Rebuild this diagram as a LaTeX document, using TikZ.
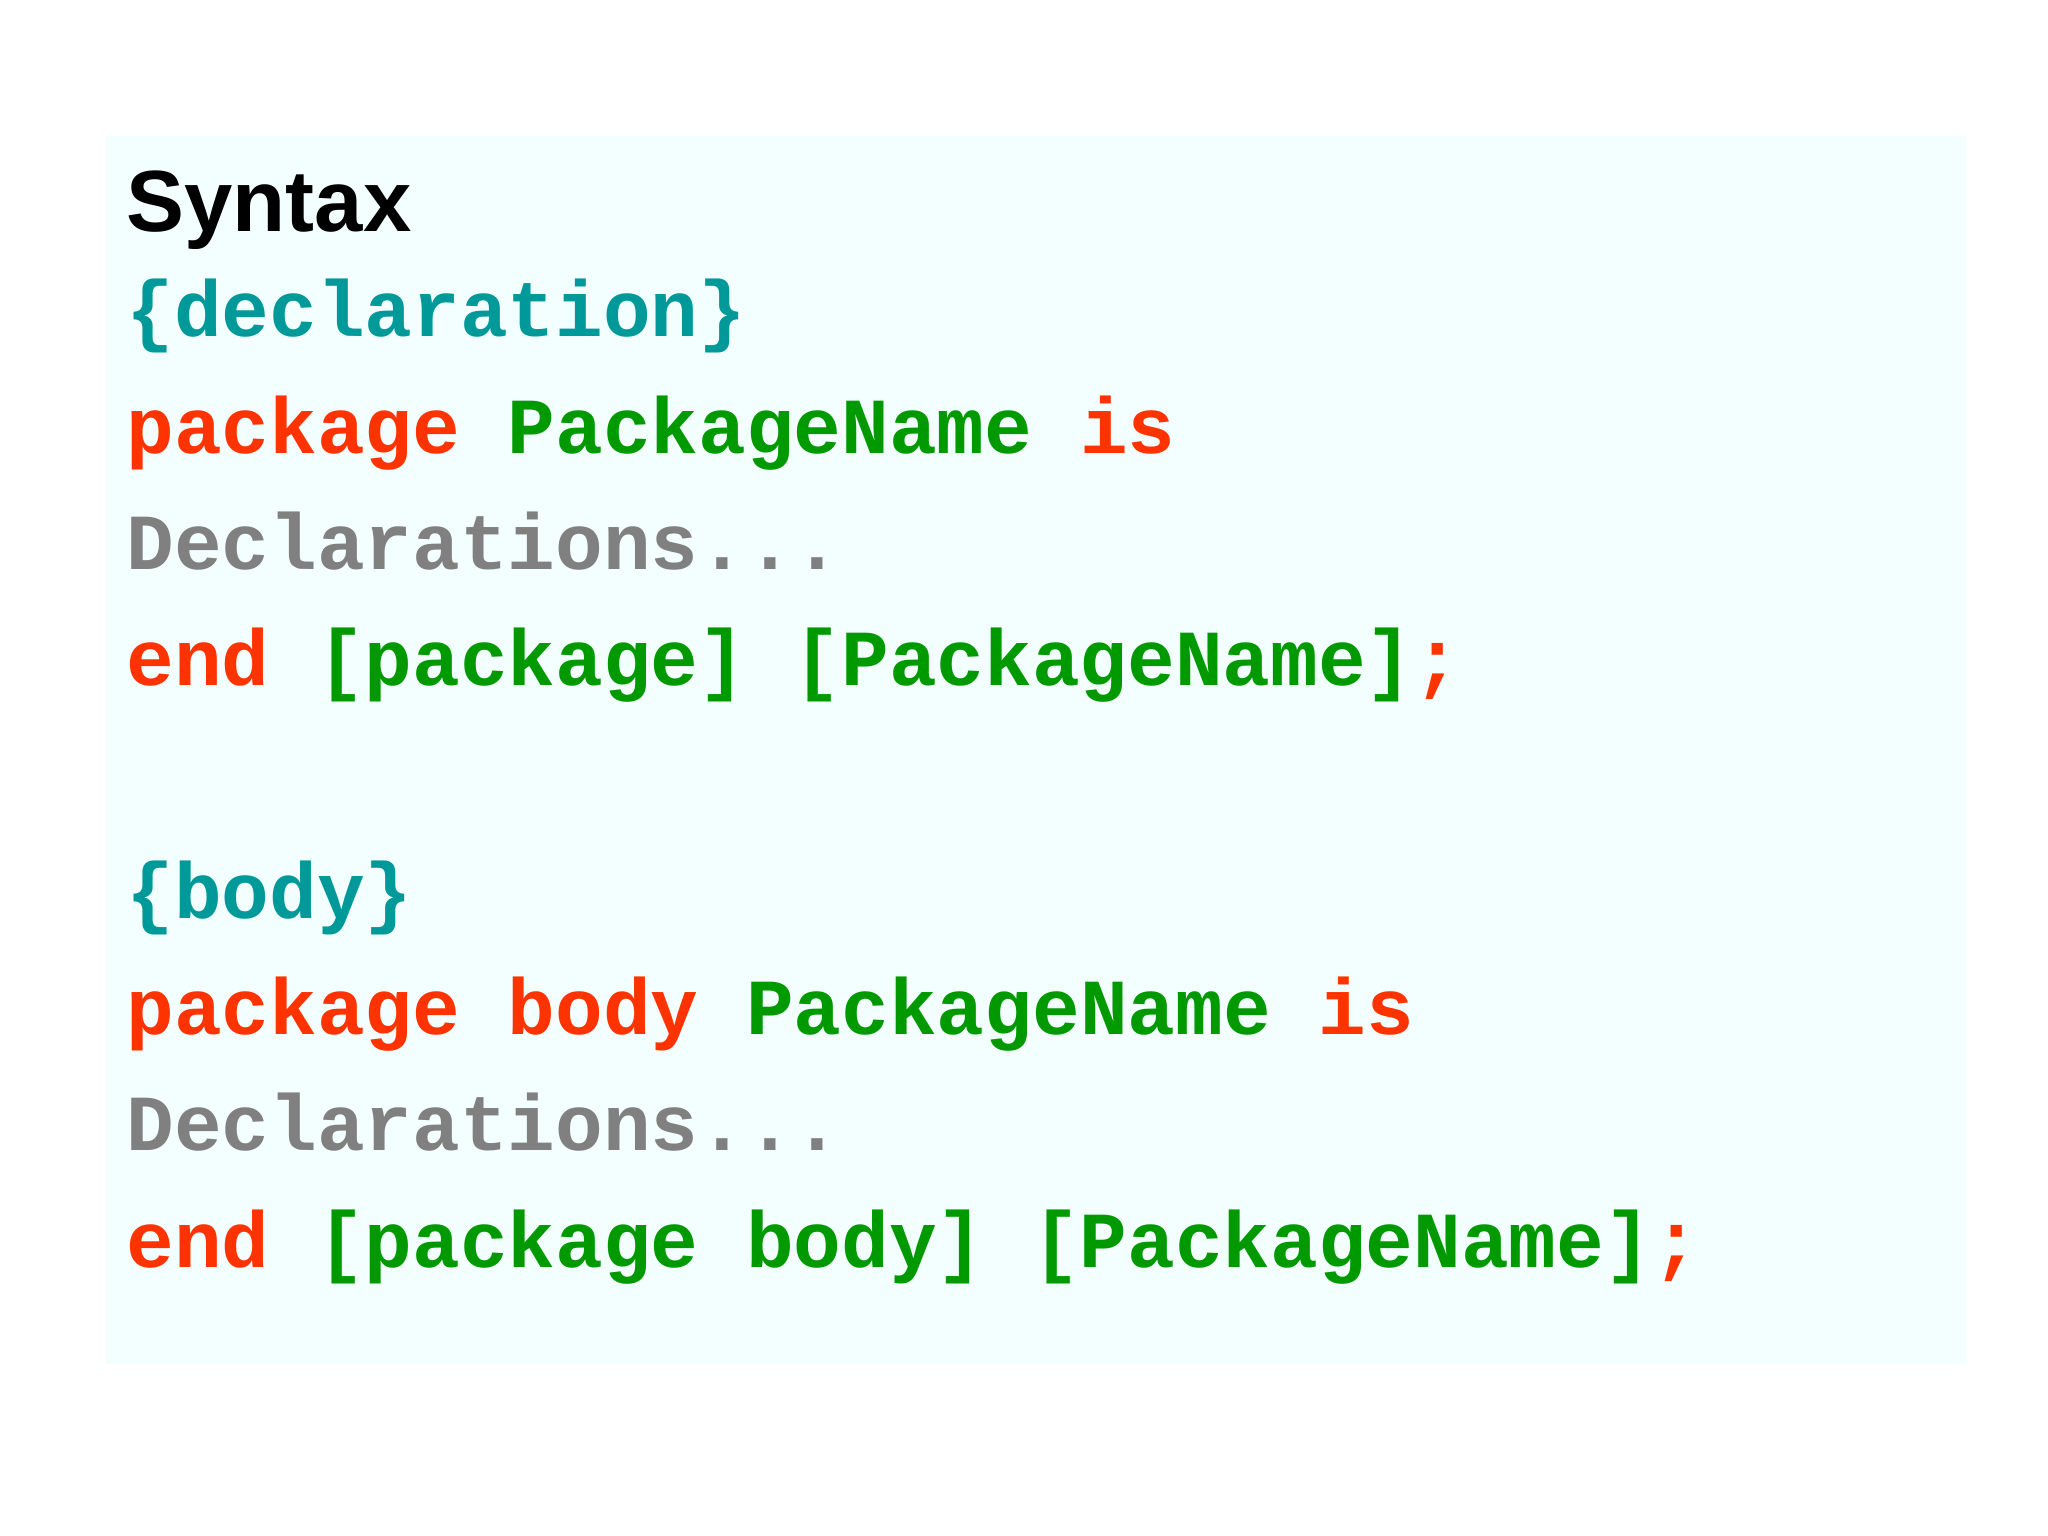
\documentclass[tikz,border=0pt]{standalone}
\usepackage{fontspec}
\setmainfont{Liberation Sans}
\newfontfamily\codefont{Liberation Mono}
\definecolor{bgc}{HTML}{F3FEFE}
\definecolor{kw}{HTML}{FF3300}
\definecolor{idf}{HTML}{009900}
\definecolor{cm}{HTML}{009999}
\definecolor{gr}{HTML}{808080}
\tikzset{codeline/.style={anchor=base west,inner sep=0pt,font=\codefont\bfseries\fontsize{17.1pt}{20pt}\selectfont}}
\begin{document}
\begin{tikzpicture}[x=0.01cm,y=0.01cm]
\useasboundingbox (0,0) rectangle (1550,1162);
\fill[bgc] (80,130) rectangle (1488,1059);
\node[anchor=base west,inner sep=0pt,font=\bfseries\fontsize{18.7pt}{22pt}\selectfont] (t) at (95,987) {Syntax};
\node[codeline,text=cm] (l1) at (95,907) {\{declaration\}};
\node[codeline] (l2) at (95,819) {\textcolor{kw}{package} \textcolor{idf}{PackageName} \textcolor{kw}{is}};
\node[codeline,text=gr] (l3) at (95,731) {Declarations...};
\node[codeline] (l4) at (95,643) {\textcolor{kw}{end} \textcolor{idf}{[package] [PackageName]}\textcolor{kw}{;}};
\node[codeline,text=cm] (l5) at (95,467) {\{body\}};
\node[codeline] (l6) at (95,379) {\textcolor{kw}{package body} \textcolor{idf}{PackageName} \textcolor{kw}{is}};
\node[codeline,text=gr] (l7) at (95,291) {Declarations...};
\node[codeline] (l8) at (95,203) {\textcolor{kw}{end} \textcolor{idf}{[package body] [PackageName]}\textcolor{kw}{;}};
\end{tikzpicture}
\end{document}
